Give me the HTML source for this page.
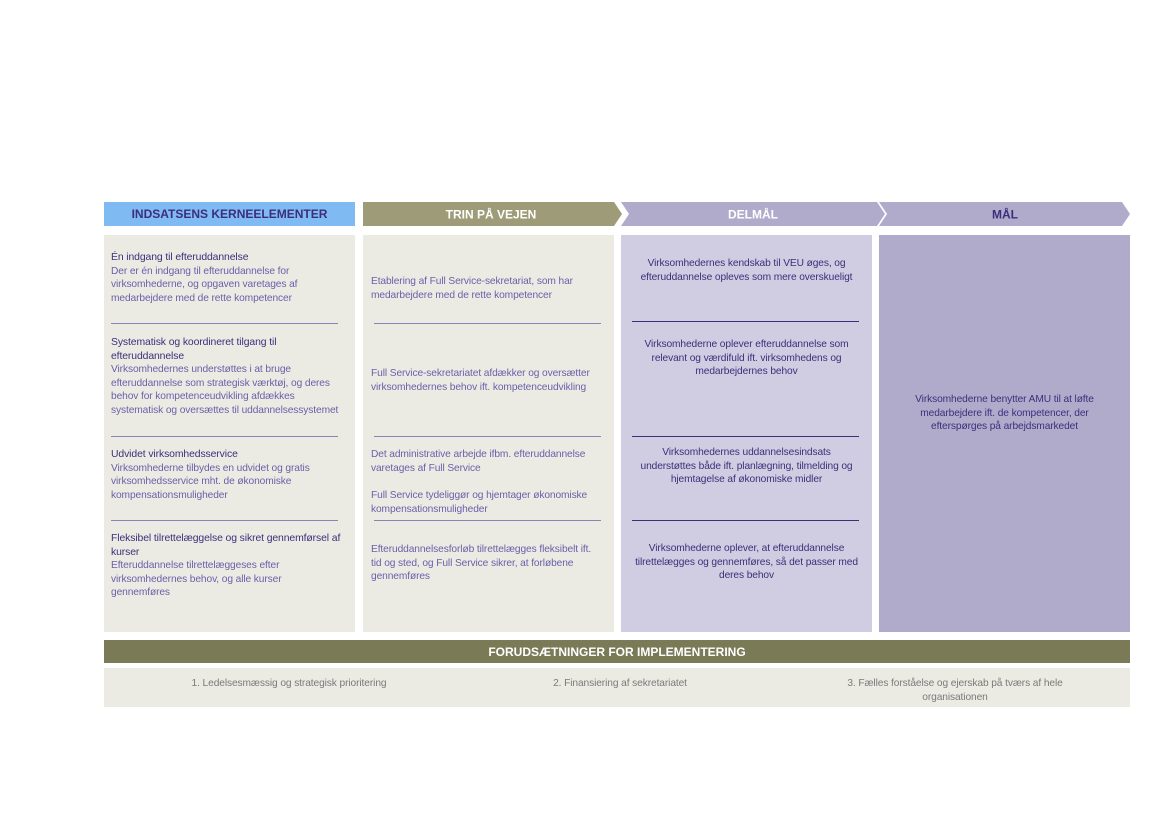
<!DOCTYPE html>
<html><head><meta charset="utf-8"><style>
*{margin:0;padding:0;box-sizing:border-box}
body{width:1169px;height:827px;background:#fff;position:relative;font-family:"Liberation Sans",sans-serif;overflow:hidden}
.a{position:absolute;white-space:nowrap}
.t{font-size:10.2px;line-height:13.6px;color:#6b60a8;letter-spacing:-0.1px}
.h{color:#3b2f7a;font-size:10.4px;line-height:13.6px;letter-spacing:-0.1px}
.c{text-align:center;color:#3b2f7a}
.hd{font-weight:bold;font-size:12px;display:flex;align-items:center;justify-content:center;height:24px;top:202px}
.ln{position:absolute;height:1px;background:#8a84b8}
</style></head><body>
<div class="a hd" style="left:104px;width:251px;background:#80baf2;color:#3b2f7a">INDSATSENS KERNEELEMENTER</div>
<svg class="a" style="left:363px;top:202px" width="770" height="24">
<polygon points="0,0 251,0 259,12 251,24 0,24" fill="#9e9c78"/>
<polygon points="258,0 514,0 522,12 514,24 258,24 266,12" fill="#b1abcb"/>
<polygon points="516,0 759,0 767,12 759,24 516,24 524,12" fill="#b1abcb"/>
<text x="128" y="16.5" text-anchor="middle" font-family="Liberation Sans" font-weight="bold" font-size="12" fill="#fff">TRIN PÅ VEJEN</text>
<text x="390" y="16.5" text-anchor="middle" font-family="Liberation Sans" font-weight="bold" font-size="12" fill="#fff">DELMÅL</text>
<text x="642" y="16.5" text-anchor="middle" font-family="Liberation Sans" font-weight="bold" font-size="12" fill="#3b2f7a">MÅL</text>
</svg>
<div class="a" style="left:104px;top:235px;width:251px;height:397px;background:#ebebe4"></div>
<div class="a" style="left:363px;top:235px;width:251px;height:397px;background:#ebebe4"></div>
<div class="a" style="left:621px;top:235px;width:251px;height:397px;background:#d0cde2"></div>
<div class="a" style="left:879px;top:235px;width:251px;height:397px;background:#b1abcb"></div>

<div class="a" style="left:111px;top:251px"><div class="h">Én indgang til efteruddannelse</div><div class="t">Der er én indgang til efteruddannelse for<br>virksomhederne, og opgaven varetages af<br>medarbejdere med de rette kompetencer</div></div>
<div class="ln" style="left:111px;top:323px;width:227px"></div>
<div class="a" style="left:111px;top:336px"><div class="h">Systematisk og koordineret tilgang til<br>efteruddannelse</div><div class="t">Virksomhedernes understøttes i at bruge<br>efteruddannelse som strategisk værktøj, og deres<br>behov for kompetenceudvikling afdækkes<br>systematisk og oversættes til uddannelsessystemet</div></div>
<div class="ln" style="left:111px;top:436px;width:227px"></div>
<div class="a" style="left:111px;top:448px"><div class="h">Udvidet virksomhedsservice</div><div class="t">Virksomhederne tilbydes en udvidet og gratis<br>virksomhedsservice mht. de  økonomiske<br>kompensationsmuligheder</div></div>
<div class="ln" style="left:111px;top:520px;width:227px"></div>
<div class="a" style="left:111px;top:532px"><div class="h">Fleksibel tilrettelæggelse og sikret gennemførsel af<br>kurser</div><div class="t">Efteruddannelse tilrettelæggeses efter<br>virksomhedernes behov, og alle kurser<br>gennemføres</div></div>

<div class="a t" style="left:371px;top:275px">Etablering af Full Service-sekretariat, som har<br>medarbejdere med de rette kompetencer</div>
<div class="ln" style="left:374px;top:323px;width:227px"></div>
<div class="a t" style="left:371px;top:367px">Full Service-sekretariatet afdækker og oversætter<br>virksomhedernes behov ift. kompetenceudvikling</div>
<div class="ln" style="left:374px;top:436px;width:227px"></div>
<div class="a t" style="left:371px;top:448px">Det administrative arbejde ifbm. efteruddannelse<br>varetages af Full Service</div>
<div class="a t" style="left:371px;top:489px">Full Service tydeliggør og hjemtager økonomiske<br>kompensationsmuligheder</div>
<div class="ln" style="left:374px;top:520px;width:227px"></div>
<div class="a t" style="left:371px;top:543px">Efteruddannelsesforløb tilrettelægges fleksibelt ift.<br>tid og sted, og Full Service sikrer, at forløbene<br>gennemføres</div>

<div class="a t c" style="left:626px;top:257px;width:241px">Virksomhedernes kendskab til VEU øges, og<br>efteruddannelse opleves som mere overskueligt</div>
<div class="ln" style="left:632px;top:321px;width:227px;background:#3b2f7a"></div>
<div class="a t c" style="left:626px;top:338px;width:241px">Virksomhederne oplever efteruddannelse som<br>relevant og værdifuld ift. virksomhedens og<br>medarbejdernes behov</div>
<div class="ln" style="left:632px;top:436px;width:227px;background:#3b2f7a"></div>
<div class="a t c" style="left:626px;top:446px;width:241px">Virksomhedernes uddannelsesindsats<br>understøttes både ift. planlægning, tilmelding og<br>hjemtagelse af økonomiske midler</div>
<div class="ln" style="left:632px;top:520px;width:227px;background:#3b2f7a"></div>
<div class="a t c" style="left:626px;top:542px;width:241px">Virksomhederne oplever, at efteruddannelse<br>tilrettelægges og gennemføres, så det passer med<br>deres behov</div>

<div class="a t c" style="left:884px;top:393px;width:241px">Virksomhederne benytter AMU til at løfte<br>medarbejdere ift. de kompetencer, der<br>efterspørges på arbejdsmarkedet</div>

<div class="a" style="left:104px;top:640px;width:1026px;height:23px;background:#7b7a57;color:#fff;font-weight:bold;font-size:12px;display:flex;align-items:center;justify-content:center">FORUDSÆTNINGER FOR IMPLEMENTERING</div>
<div class="a" style="left:104px;top:668px;width:1026px;height:39px;background:#ebebe4"></div>
<div class="a t" style="left:104px;top:677px;width:370px;text-align:center;color:#7a7a7a">1. Ledelsesmæssig og strategisk prioritering</div>
<div class="a t" style="left:450px;top:677px;width:340px;text-align:center;color:#7a7a7a">2. Finansiering af sekretariatet</div>
<div class="a t" style="left:820px;top:677px;width:270px;text-align:center;color:#7a7a7a">3. Fælles forståelse og ejerskab på tværs af hele<br>organisationen</div>
</body></html>
